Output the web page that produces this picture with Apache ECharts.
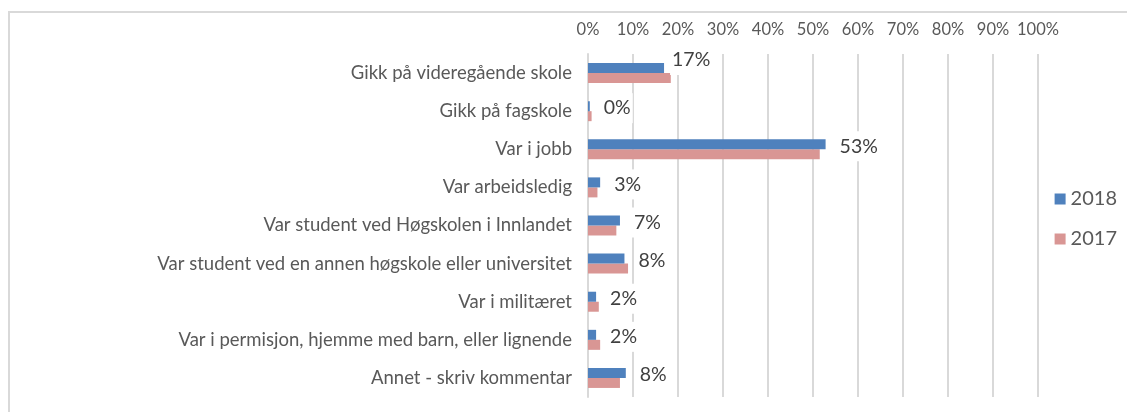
<!DOCTYPE html>
<html>
<head>
<meta charset="utf-8">
<script src="https://cdn.jsdelivr.net/npm/echarts@6/dist/echarts.min.js"></script>
<style>
  html, body { margin: 0; padding: 0; background: #fff; }
  #chart { width: 1127px; height: 412px; }
</style>
</head>
<body>
<div id="chart"></div>
<script>
const categories = [
  "Gikk på videregående skole",
  "Gikk på fagskole",
  "Var i jobb",
  "Var arbeidsledig",
  "Var student ved Høgskolen i Innlandet",
  "Var student ved en annen høgskole eller universitet",
  "Var i militæret",
  "Var i permisjon, hjemme med barn, eller lignende",
  "Annet - skriv kommentar"
];
const values2018 = [16.9, 0.4, 52.8, 2.7, 7.1, 8.1, 1.8, 1.8, 8.4];
const values2017 = [18.4, 0.8, 51.5, 2.1, 6.3, 8.9, 2.4, 2.7, 7.1];
const seriesNames = ["2018", "2017"];

const font = "Lato, 'Liberation Sans', sans-serif";
const chart = echarts.init(document.getElementById("chart"));

// first label was nudged up in the original
const data2018 = values2018.map((v, i) => i === 0
  ? { value: v, label: { offset: [-6, -8] } }
  : v);

chart.setOption({
  animation: false,
  graphic: [
    {
      type: "polyline",
      shape: { points: [[9, 412], [9, 12], [1127, 12]] },
      style: { stroke: "#d9d9d9", lineWidth: 2, fill: null }
    }
  ],
  grid: { left: 588, right: 89, top: 54, bottom: 15 },
  legend: {
    orient: "vertical",
    right: 5,
    top: 184,
    itemWidth: 11,
    itemHeight: 11,
    itemGap: 20,
    icon: "rect",
    textStyle: { color: "#595959", fontSize: 20, fontFamily: font },
    data: seriesNames
  },
  xAxis: {
    type: "value",
    position: "top",
    min: 0,
    max: 100,
    interval: 10,
    axisLine: { show: false },
    axisTick: { show: false },
    axisLabel: { color: "#595959", fontSize: 16.5, fontFamily: font, formatter: "{value}%", margin: 16 },
    splitLine: { lineStyle: { color: "#d9d9d9", width: 2 } }
  },
  yAxis: {
    type: "category",
    inverse: true,
    data: categories,
    axisLine: { lineStyle: { color: "#d9d9d9", width: 2 } },
    axisTick: { show: false },
    axisLabel: { color: "#595959", fontSize: 18.5, fontFamily: font, margin: 16 }
  },
  series: [
    {
      name: seriesNames[0],
      type: "bar",
      data: data2018,
      barWidth: 10,
      barGap: "0%",
      itemStyle: { color: "#4f81bd" },
      z: 3,
      label: {
        show: true,
        position: "right",
        distance: 12,
        offset: [0, 2],
        color: "#404040",
        fontSize: 19.5,
        fontFamily: font,
        backgroundColor: "#fff",
        padding: [5, 2],
        formatter: p => Math.round(p.value) + "%"
      }
    },
    {
      name: seriesNames[1],
      type: "bar",
      data: values2017,
      barWidth: 10,
      barGap: "0%",
      itemStyle: { color: "#d99694" }
    }
  ]
});
</script>
</body>
</html>
